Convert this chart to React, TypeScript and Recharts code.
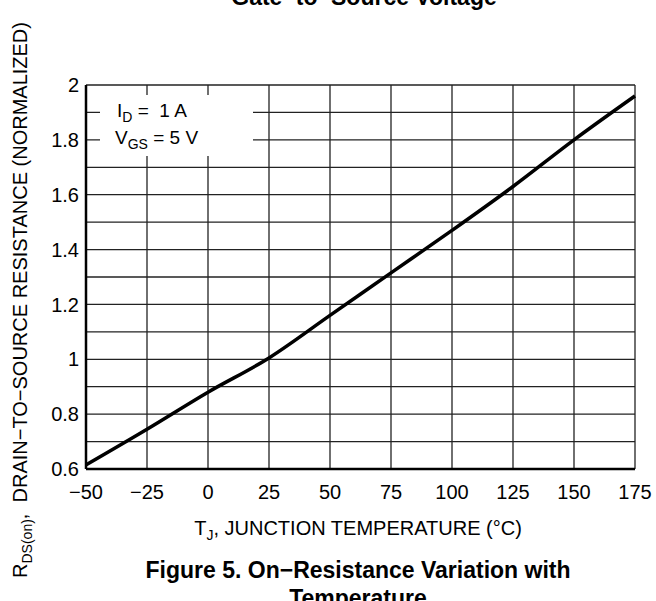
import { LineChart, Line, XAxis, YAxis, CartesianGrid, Legend, Label } from "recharts"

const temperatures = [-50, -25, 0, 25, 50, 75, 100, 125, 150, 175]
const rdsNormalized = [0.615, 0.745, 0.88, 1.005, 1.16, 1.315, 1.47, 1.63, 1.8, 1.96]
const xTicks = [-50, -25, 0, 25, 50, 75, 100, 125, 150, 175]
const yTicks = [0.6, 0.7, 0.8, 0.9, 1, 1.1, 1.2, 1.3, 1.4, 1.5, 1.6, 1.7, 1.8, 1.9, 2]

const data = temperatures.map((t, i) => ({ t, r: rdsNormalized[i] }))

const FONT = "'Liberation Sans', Arial, Helvetica, sans-serif"

const fmtX = (v: number) => (v < 0 ? "\u2212" + Math.abs(v) : String(v))
const fmtY = (v: number) => (Math.round(v * 10) % 2 === 0 ? String(Number(v.toFixed(1))) : "")

// the white box with the test conditions, sits over the grid
function ConditionsBox() {
  const sub = { fontSize: 14, verticalAlign: "-5px", lineHeight: 0 }
  return (
    <div
      style={{
        background: "#fff",
        width: 153,
        height: 61,
        fontFamily: FONT,
        fontSize: 19,
        lineHeight: "27px",
        color: "#000",
        paddingTop: 2,
        boxSizing: "border-box",
        whiteSpace: "pre",
        textAlign: "left",
      }}
    >
      <div style={{ paddingLeft: 17 }}>
        I<span style={sub}>D</span> =  1 A
      </div>
      <div style={{ paddingLeft: 15 }}>
        V<span style={sub}>GS</span> = 5 V
      </div>
    </div>
  )
}

const yLabel = () => (
  <text transform="rotate(-90)" x={-300} y={27} textAnchor="middle" fontSize={20} fontFamily={FONT} fill="#000">
    R<tspan fontSize={14} dy={5}>DS(on)</tspan>
    <tspan dy={-5}>{",\u00a0\u00a0DRAIN\u2212TO\u2212SOURCE RESISTANCE (NORMALIZED)"}</tspan>
  </text>
)

const xLabel = () => (
  <g fontFamily={FONT} fill="#000">
    <text x={358} y={535} textAnchor="middle" fontSize={20}>
      T<tspan fontSize={14} dy={5}>J</tspan>
      <tspan dy={-5}>, JUNCTION TEMPERATURE (°C)</tspan>
    </text>
    <text x={358} y={578} textAnchor="middle" fontSize={23} fontWeight="bold">
      Figure 5. On{"\u2212"}Resistance Variation with
    </text>
    <text x={358} y={606} textAnchor="middle" fontSize={23} fontWeight="bold">
      Temperature
    </text>
    <text x={364} y={5} textAnchor="middle" fontSize={23} fontWeight="bold">
      Gate{"\u2212"}to{"\u2212"}Source Voltage
    </text>
  </g>
)

export default function App() {
  return (
    <div style={{ position: "absolute", left: 0, top: 0, width: 656, height: 601, background: "#fff", overflow: "hidden" }}>
      <LineChart width={656} height={601} data={data} margin={{ top: 85, right: 21, bottom: 0, left: 0 }}>
        <CartesianGrid stroke="#222" strokeWidth={1.3} />
        <XAxis
          dataKey="t"
          type="number"
          domain={[-50, 175]}
          ticks={xTicks}
          tickFormatter={fmtX}
          height={132}
          tickLine={false}
          tickSize={0}
          tickMargin={16}
          axisLine={{ stroke: "#000", strokeWidth: 2.5 }}
          tick={{ fill: "#000", fontSize: 20, fontFamily: FONT }}
          interval={0}
        >
          <Label content={xLabel} />
        </XAxis>
        <YAxis
          type="number"
          domain={[0.6, 2]}
          ticks={yTicks}
          tickFormatter={fmtY}
          width={86}
          tickLine={false}
          tickSize={0}
          tickMargin={7}
          axisLine={{ stroke: "#000", strokeWidth: 2.5 }}
          tick={{ fill: "#000", fontSize: 20, fontFamily: FONT }}
          interval={0}
        >
          <Label content={yLabel} />
        </YAxis>
        <Legend
          layout="horizontal"
          verticalAlign="middle"
          align="center"
          content={() => <ConditionsBox />}
          wrapperStyle={{ left: 100, top: 95, width: 153, height: 61 }}
        />
        <Line
          type="monotone"
          dataKey="r"
          stroke="#000"
          strokeWidth={3.5}
          dot={false}
          isAnimationActive={false}
        />
      </LineChart>
    </div>
  )
}
